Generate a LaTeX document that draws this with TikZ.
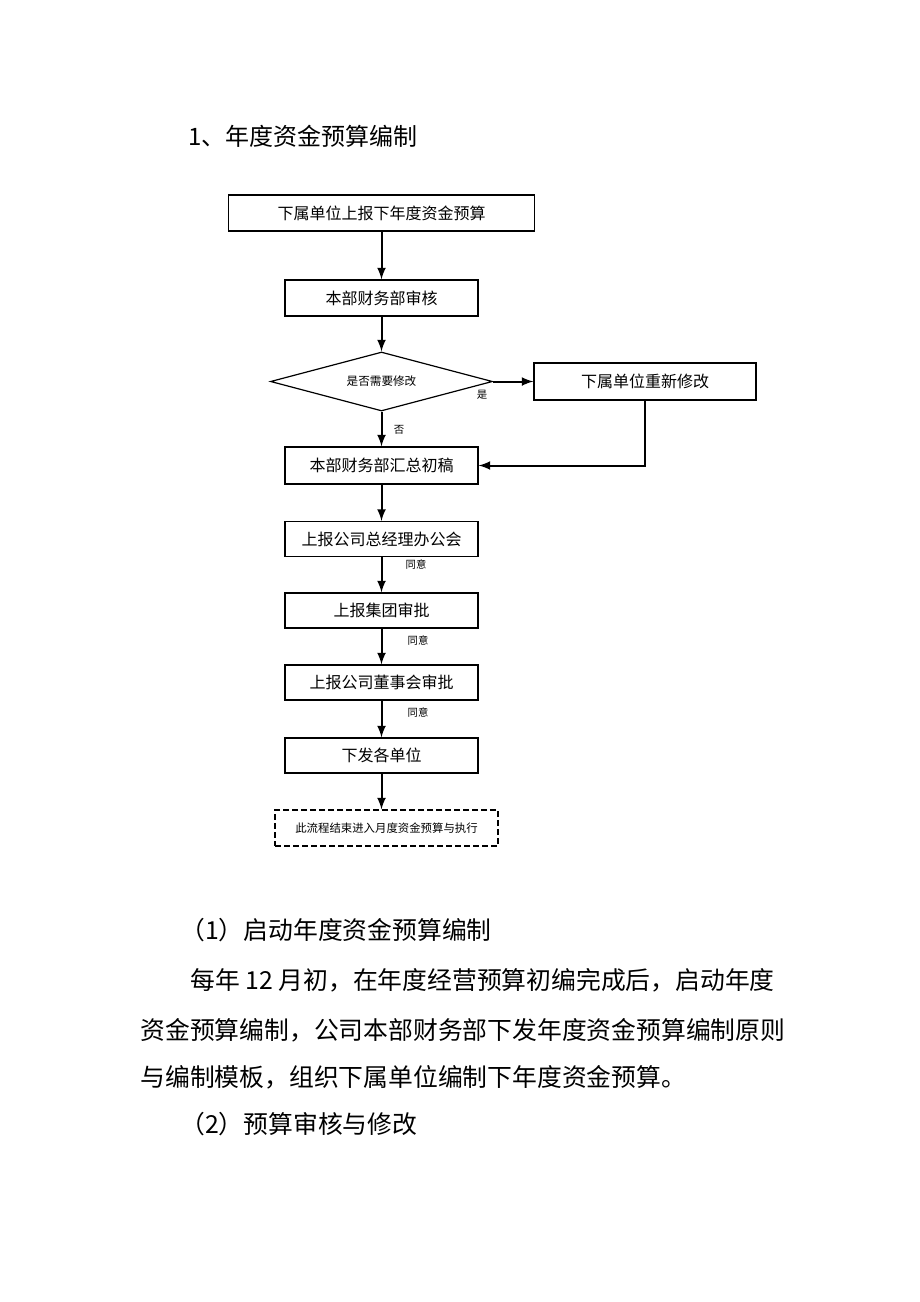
\documentclass[tikz,border=0pt]{standalone}
\usepackage{fontspec}
\setmainfont{Noto Sans CJK SC}
\usetikzlibrary{arrows}
\usetikzlibrary{shapes.geometric}

\tikzset{
  flowbox/.style={draw=black, line width=0.6pt, fill=white, inner sep=0pt,
    minimum width=96.5pt, minimum height=17.5pt, font=\fontsize{8}{10}\selectfont},
  flowline/.style={line width=1pt, -latex},
  smalllabel/.style={inner sep=0pt, font=\fontsize{5.2}{6}\selectfont},
  bodytext/.style={anchor=west, inner sep=0pt, font=\fontsize{12.4}{15}\selectfont}
}

\begin{document}
\begin{tikzpicture}[x=0.5pt,y=-0.5pt]

            \useasboundingbox (0,0) rectangle (920,1302);

            % Title
            \node[bodytext, font=\fontsize{12}{15}\selectfont] (title) at (188,136) {1、年度资金预算编制};

            % Draw the boxes
            \node[flowbox, minimum width=153pt, minimum height=18pt] (report) at (381.5,213) {下属单位上报下年度资金预算};
            \node[flowbox, minimum height=18pt] (audit) at (381.5,298) {本部财务部审核};
            \node[draw=black, line width=0.6pt, shape=diamond, inner sep=0pt, aspect=3.7,
                  minimum width=111pt, minimum height=29.5pt, font=\fontsize{5.8}{7}\selectfont] (check) at (381.5,381.5) {是否需要修改};
            \node[flowbox, minimum width=111pt, minimum height=18.5pt] (revise) at (645,381.5) {下属单位重新修改};
            \node[flowbox, minimum height=18.5pt] (summary) at (381.5,465.5) {本部财务部汇总初稿};
            \node[flowbox] (manager) at (381.5,539) {上报公司总经理办公会};
            \node[flowbox] (group) at (381.5,610.5) {上报集团审批};
            \node[flowbox] (board) at (381.5,682.5) {上报公司董事会审批};
            \node[flowbox] (issue) at (381.5,755.5) {下发各单位};
            \node[flowbox, dashed, dash pattern=on 3pt off 1.5pt, minimum width=111.5pt, minimum height=18pt,
                  font=\fontsize{5.7}{7}\selectfont] (monthly) at (386.5,828) {此流程结束进入月度资金预算与执行};

            % Draw the connectors
            \draw[flowline] (report.south) -- (audit.north);
            \draw[flowline] (audit.south) -- (check.north);
            \draw[flowline] (check.east) -- (revise.west);
            \draw[flowline] (check.south) -- (summary.north);
            \draw[flowline] (revise.south) |- (summary.east);
            \draw[flowline] (summary.south) -- (manager.north);
            \draw[flowline] (manager.south) -- (group.north);
            \draw[flowline] (group.south) -- (board.north);
            \draw[flowline] (board.south) -- (issue.north);
            \draw[flowline] (issue.south) -- (issue.south |- monthly.north);

            % Labels
            \node[smalllabel] (yes) at (482,395) {是};
            \node[smalllabel] (no) at (399,430) {否};
            \node[smalllabel] (ok1) at (416,565) {同意};
            \node[smalllabel] (ok2) at (418,641) {同意};
            \node[smalllabel] (ok3) at (418,713) {同意};

            % Text below
            \node[bodytext] (step1) at (180,930) {（1）启动年度资金预算编制};
            \node[bodytext] (line1) at (190,980) {每年 12 月初，在年度经营预算初编完成后，启动年度};
            \node[bodytext] (line2) at (140,1030) {资金预算编制，公司本部财务部下发年度资金预算编制原则};
            \node[bodytext] (line3) at (140,1077) {与编制模板，组织下属单位编制下年度资金预算。};
            \node[bodytext] (step2) at (180,1124) {（2）预算审核与修改};

        \end{tikzpicture}
\end{document}
